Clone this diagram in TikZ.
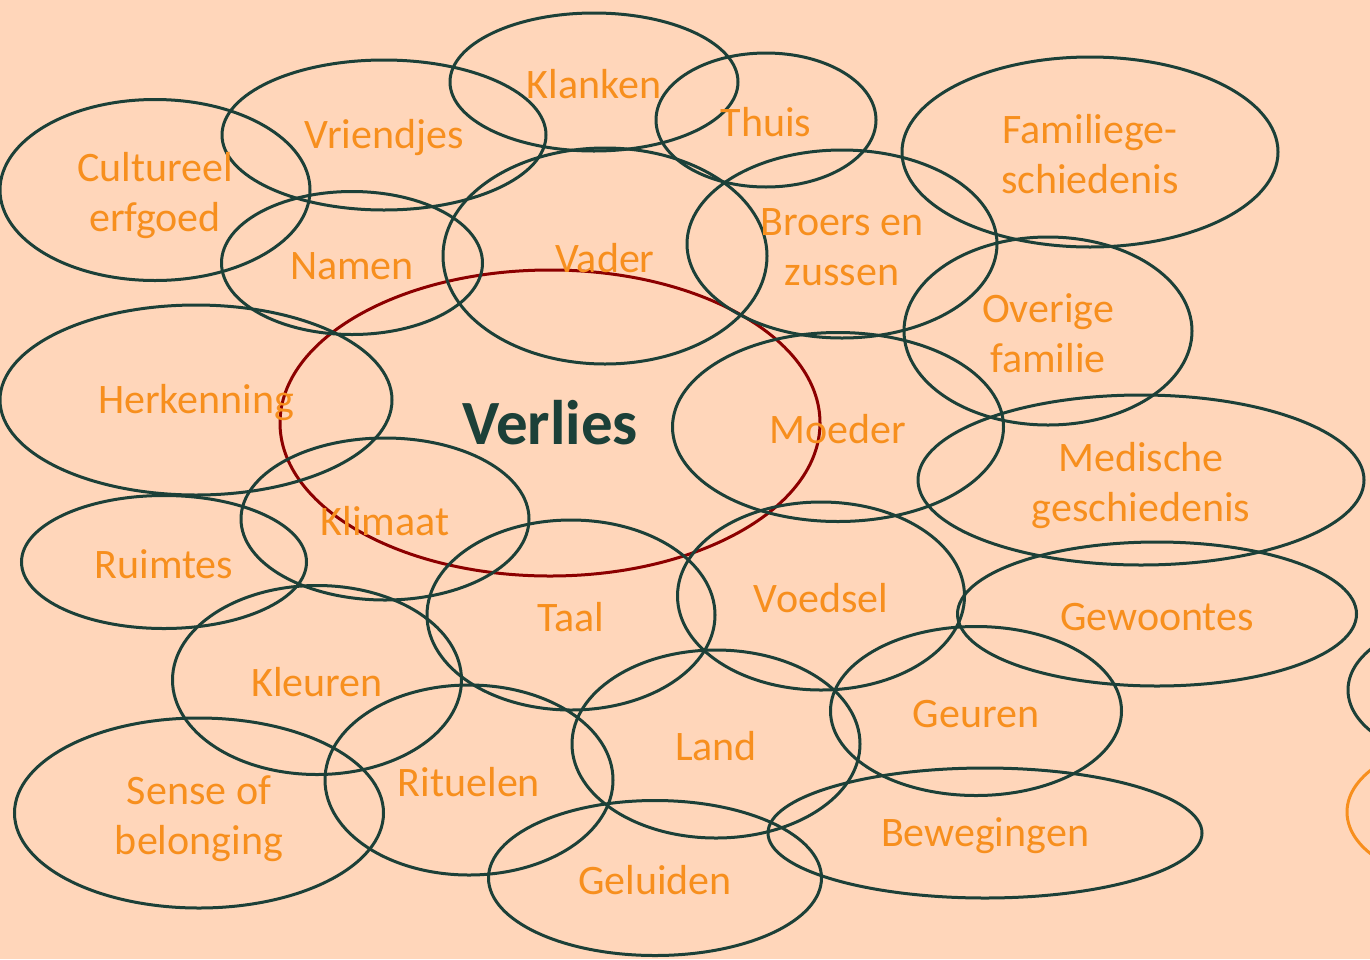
\documentclass[tikz,border=0pt]{standalone}
\usepackage{fontspec}
\setmainfont{Carlito}
\usetikzlibrary{shapes.geometric}
\definecolor{peach}{RGB}{255,214,186}
\definecolor{darkgreen}{RGB}{28,64,56}
\definecolor{labelorange}{RGB}{247,143,30}
\definecolor{lossred}{RGB}{140,0,0}
\newcommand{\lift}{\rule{0pt}{42pt}}
\newcommand{\sink}{\rule[-10pt]{0pt}{10pt}}
\tikzset{
	ring/.style={ellipse, line width=3pt, inner sep=0pt, align=center},
	pair/.style={ring, draw=darkgreen, text=labelorange, font=\fontsize{42}{50}\selectfont},
	topic/.style={pair, execute at begin node={\rule{0pt}{34pt}}},
	core/.style={ring, draw=lossred, text=darkgreen, font=\bfseries\fontsize{63}{66}\selectfont}
}
\begin{document}
\begin{tikzpicture}[x=1pt,y=-1pt]
	\fill[peach] (0,0) rectangle (1370,959);
	\useasboundingbox (0,0) rectangle (1370,959);
	\clip (0,0) rectangle (1370,959);

	\node 	(verlies)	at	(550,423) 	[core, minimum width=540, minimum height=306]{Verlies};

	\node 	(klanken)	at	(594,82) 	[topic, minimum width=288, minimum height=138]{Klanken};
	\node 	(thuis)		at	(766,120) 	[topic, minimum width=220, minimum height=134]{Thuis};
	\node 	(vriendjes)	at	(384,135) 	[topic, minimum width=324, minimum height=150]{Vriendjes};
	\node 	(erfgoed)	at	(155,190) 	[pair, minimum width=310, minimum height=181]{\lift Cultureel\\erfgoed\sink};
	\node 	(famgesch)	at	(1090,152) 	[pair, minimum width=376, minimum height=190]{\lift Familiege-\\schiedenis\sink};
	\node 	(vader)		at	(605,256) 	[topic, minimum width=324, minimum height=216]{Vader};
	\node 	(broers)	at	(842,244) 	[pair, minimum width=310, minimum height=188]{\lift Broers en\\zussen\sink};
	\node 	(namen)		at	(352,263) 	[topic, minimum width=261, minimum height=143]{Namen};
	\node 	(overige)	at	(1048,331) 	[pair, minimum width=288, minimum height=188]{\lift Overige\\familie\sink};
	\node 	(herkenning)	at	(196,400) 	[topic, minimum width=392, minimum height=190]{Herkenning};
	\node 	(moeder)	at	(838,427) 	[topic, minimum width=331, minimum height=189]{Moeder};
	\node 	(medisch)	at	(1141,480) 	[pair, minimum width=446, minimum height=170]{\lift Medische\\geschiedenis\sink};
	\node 	(klimaat)	at	(385,519) 	[topic, minimum width=288, minimum height=162]{Klimaat};
	\node 	(ruimtes)	at	(164,562) 	[topic, minimum width=285, minimum height=133]{Ruimtes};
	\node 	(taal)		at	(571,615) 	[topic, minimum width=288, minimum height=190]{Taal};
	\node 	(voedsel)	at	(821,596) 	[topic, minimum width=287, minimum height=188]{Voedsel};
	\node 	(gewoontes)	at	(1157,614) 	[topic, minimum width=399, minimum height=144]{Gewoontes};
	\node 	(kleuren)	at	(317,680) 	[topic, minimum width=289, minimum height=189]{Kleuren};
	\node 	(geuren)	at	(976,711) 	[topic, minimum width=291, minimum height=169]{Geuren};
	\node 	(land)		at	(716,744) 	[topic, minimum width=288, minimum height=188]{Land};
	\node 	(rituelen)	at	(469,780) 	[topic, minimum width=288, minimum height=190]{Rituelen};
	\node 	(belonging)	at	(199,813) 	[pair, minimum width=369, minimum height=190]{\lift Sense of\\belonging\sink};
	\node 	(bewegingen)	at	(985,833) 	[topic, minimum width=434, minimum height=130]{Bewegingen};
	\node 	(geluiden)	at	(655,878) 	[topic, minimum width=333, minimum height=155]{Geluiden};

	\node 	(rand1)		at	(1468,690) 	[pair, minimum width=240, minimum height=140]{};
	\node 	(rand2)		at	(1467,812) 	[pair, draw=labelorange, minimum width=240, minimum height=140]{};

\end{tikzpicture}
\end{document}
